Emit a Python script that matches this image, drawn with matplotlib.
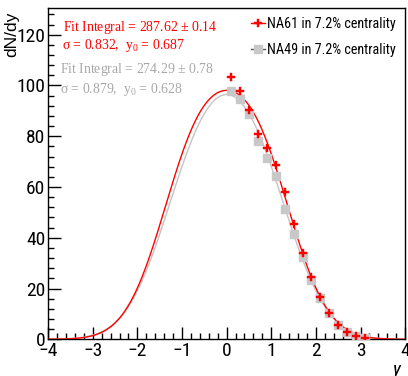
import numpy as np
import matplotlib
matplotlib.use("Agg")
import matplotlib.pyplot as plt
from matplotlib.lines import Line2D
from matplotlib.ticker import MultipleLocator

# Data
rap = [0.1, 0.3, 0.5, 0.7, 0.9, 1.1, 1.3, 1.5, 1.7, 1.9, 2.1, 2.3, 2.5, 2.7, 2.9, 3.1]
na61 = [103.5, 97.9, 90.4, 80.8, 75.2, 68.5, 58.2, 45.5, 34.0, 24.6, 16.7, 10.4, 5.6, 3.0, 1.3, 0.4]
na49 = [97.8, 94.5, 88.6, 78.2, 71.6, 64.5, 51.5, 41.3, 32.3, 23.4, 16.1, 10.2, 5.6, 3.0, 1.3, 0.4]

# Fit parameters (double Gaussian) as printed on the chart
fit61 = dict(integral=287.62, err=0.14, sigma=0.832, y0=0.687)
fit49 = dict(integral=274.29, err=0.78, sigma=0.879, y0=0.628)

RED = "#ff0000"
GRAY_PT = "#c8c8c8"
GRAY_TXT = "#a8a8a8"
GRAY_LINE = "#c4c4c4"
SANS = ["Roboto Condensed", "Liberation Sans", "DejaVu Sans"]
SERIF = "Liberation Serif"

plt.rcParams["mathtext.fontset"] = "custom"
plt.rcParams["mathtext.rm"] = SERIF
plt.rcParams["axes.unicode_minus"] = True


def dgauss(x, integral, sigma, y0, **_):
    a = integral / (2 * sigma * np.sqrt(2 * np.pi))
    return a * (np.exp(-(x - y0) ** 2 / (2 * sigma ** 2)) + np.exp(-(x + y0) ** 2 / (2 * sigma ** 2)))


fig = plt.figure(figsize=(4.08, 3.76), dpi=100)
ax = fig.add_axes([0.118, 0.0976, 0.875, 0.881])

xs = np.linspace(-4, 4, 800)
ax.plot(xs, dgauss(xs, **fit49), color=GRAY_LINE, lw=1.0, zorder=2)
ax.plot(xs, dgauss(xs, **fit61), color=RED, lw=1.0, zorder=3)

ax.plot(rap, na49, ls="none", marker="s", ms=6, color=GRAY_PT, mec=GRAY_PT, zorder=4)
ax.plot(rap, na61, ls="none", marker="P", ms=5.6, color=RED, mec=RED, mew=0.3, zorder=5)

ax.set_xlim(-4, 4)
ax.set_ylim(0, 130.5)
ax.xaxis.set_major_locator(MultipleLocator(1))
ax.xaxis.set_minor_locator(MultipleLocator(0.2))
ax.yaxis.set_major_locator(MultipleLocator(20))
ax.yaxis.set_minor_locator(MultipleLocator(4))
ax.tick_params(which="both", direction="in", top=False, right=False,
               labelsize=14, width=1.0)
ax.tick_params(which="major", length=9, pad=2)
ax.tick_params(which="minor", length=4.5)
for lab in ax.get_xticklabels() + ax.get_yticklabels():
    lab.set_family(SANS)
for sp in ax.spines.values():
    sp.set_linewidth(1.0)

ax.set_xlabel("y", fontsize=14, style="italic", family=SANS)
ax.xaxis.set_label_coords(0.977, -0.066)
ax.xaxis.label.set_ha("center")
ax.set_ylabel("dN/dy", fontsize=12.5, family=["Liberation Sans", "DejaVu Sans"])
ax.yaxis.set_label_coords(-0.08, 0.99)
ax.yaxis.label.set_ha("right")

fs = 9.9
fig.text(63 / 408, 1 - 27 / 376, "Fit Integral = %.2f $\\pm$ %.2f" % (fit61["integral"], fit61["err"]),
         color=RED, fontsize=fs, family=SERIF, va="center")
fig.text(62 / 408, 1 - 46 / 376, "σ = %.3f,  y$_{\\mathregular{0}}$ = %.3f" % (fit61["sigma"], fit61["y0"]),
         color=RED, fontsize=fs, family=SERIF, va="center")
fig.text(60 / 408, 1 - 69 / 376, "Fit Integral = %.2f $\\pm$ %.2f" % (fit49["integral"], fit49["err"]),
         color=GRAY_TXT, fontsize=fs, family=SERIF, va="center")
fig.text(60 / 408, 1 - 90 / 376, "σ = %.3f,  y$_{\\mathregular{0}}$ = %.3f" % (fit49["sigma"], fit49["y0"]),
         color=GRAY_TXT, fontsize=fs, family=SERIF, va="center")

handles = [
    Line2D([], [], color=RED, marker="P", ms=5.5, lw=1.0, mew=0.3),
    Line2D([], [], color="#555555", marker="s", ms=5.5, lw=1.0, mfc=GRAY_PT, mec=GRAY_PT),
]
leg = ax.legend(handles, ["NA61 in 7.2% centrality", "NA49 in 7.2% centrality"],
                loc="upper right", bbox_to_anchor=(1.0, 1.0), frameon=False,
                handlelength=1.0, handletextpad=0.15, labelspacing=0.85,
                borderaxespad=0.25,
                prop={"family": SANS, "size": 10.2})

fig.savefig("out.png", dpi=100)
